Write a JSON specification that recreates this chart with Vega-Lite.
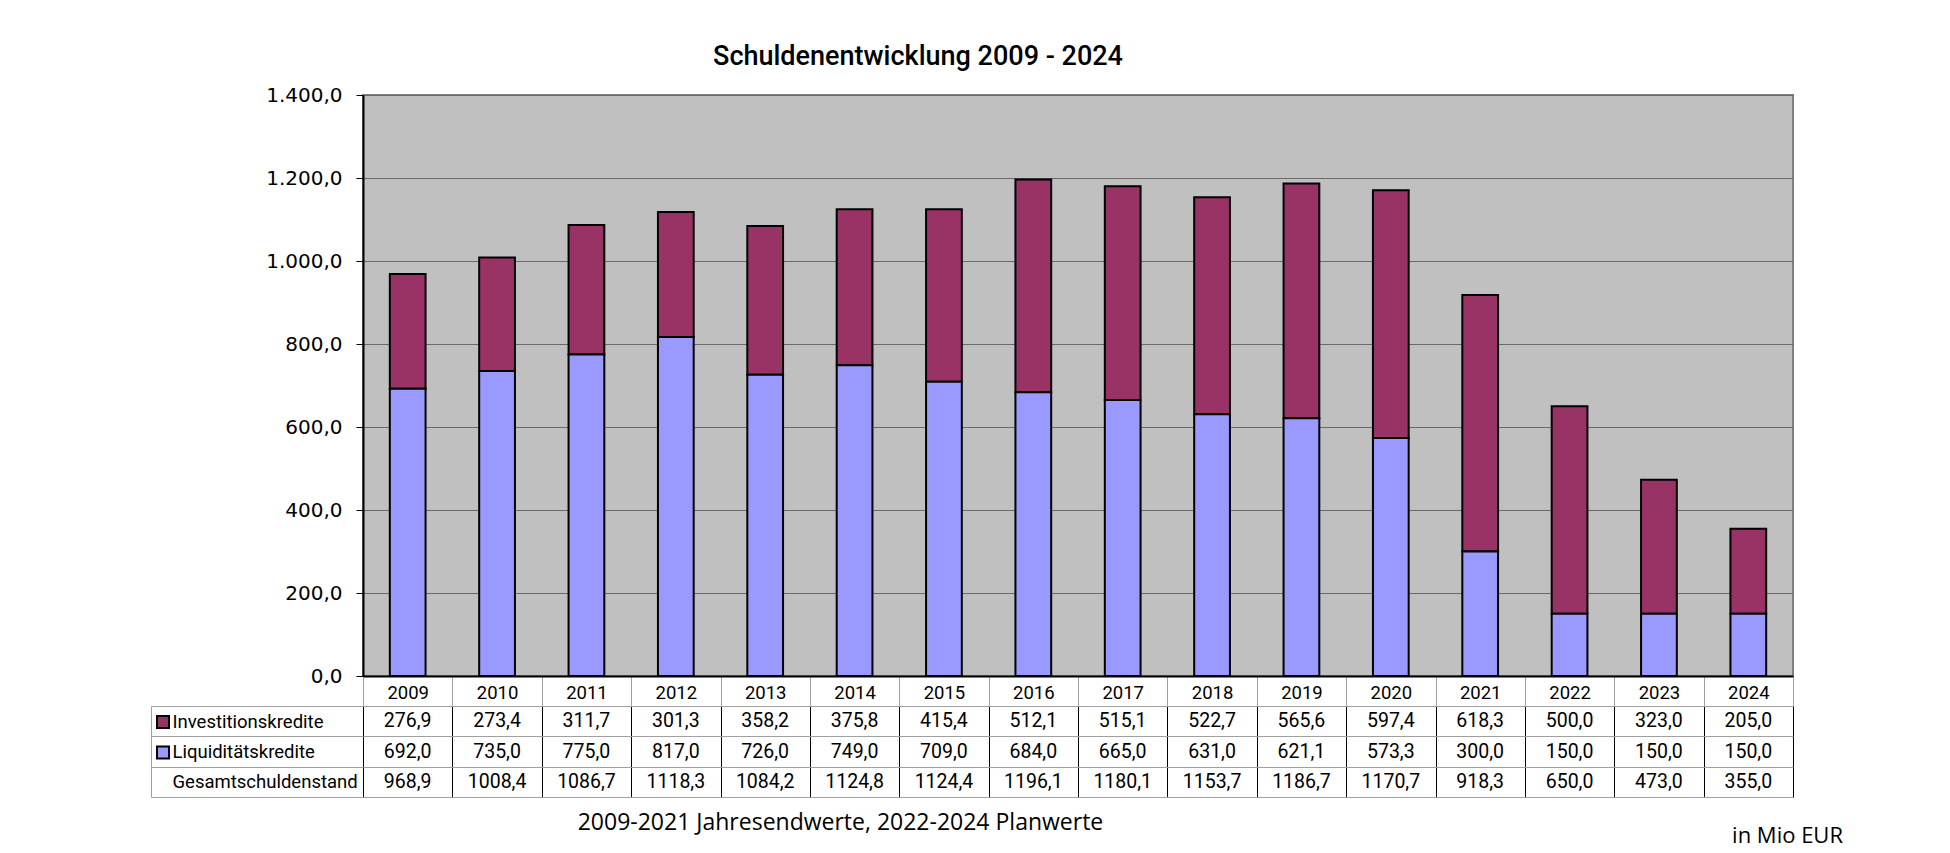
{
  "$schema": "https://vega.github.io/schema/vega-lite/v6.json",
  "background": "white",
  "padding": {"left": 150, "top": 42, "right": 5, "bottom": 5},
  "config": {
    "locale": {"number": {"decimal": ",", "thousands": ".", "grouping": [3], "currency": ["", " €"]}},
    "font": "Roboto"
  },
  "datasets": {
    "debt": [
      {"year": "2009", "row": "Investitionskredite", "value": 276.9},
      {"year": "2010", "row": "Investitionskredite", "value": 273.4},
      {"year": "2011", "row": "Investitionskredite", "value": 311.7},
      {"year": "2012", "row": "Investitionskredite", "value": 301.3},
      {"year": "2013", "row": "Investitionskredite", "value": 358.2},
      {"year": "2014", "row": "Investitionskredite", "value": 375.8},
      {"year": "2015", "row": "Investitionskredite", "value": 415.4},
      {"year": "2016", "row": "Investitionskredite", "value": 512.1},
      {"year": "2017", "row": "Investitionskredite", "value": 515.1},
      {"year": "2018", "row": "Investitionskredite", "value": 522.7},
      {"year": "2019", "row": "Investitionskredite", "value": 565.6},
      {"year": "2020", "row": "Investitionskredite", "value": 597.4},
      {"year": "2021", "row": "Investitionskredite", "value": 618.3},
      {"year": "2022", "row": "Investitionskredite", "value": 500.0},
      {"year": "2023", "row": "Investitionskredite", "value": 323.0},
      {"year": "2024", "row": "Investitionskredite", "value": 205.0},
      {"year": "2009", "row": "Liquiditätskredite", "value": 692.0},
      {"year": "2010", "row": "Liquiditätskredite", "value": 735.0},
      {"year": "2011", "row": "Liquiditätskredite", "value": 775.0},
      {"year": "2012", "row": "Liquiditätskredite", "value": 817.0},
      {"year": "2013", "row": "Liquiditätskredite", "value": 726.0},
      {"year": "2014", "row": "Liquiditätskredite", "value": 749.0},
      {"year": "2015", "row": "Liquiditätskredite", "value": 709.0},
      {"year": "2016", "row": "Liquiditätskredite", "value": 684.0},
      {"year": "2017", "row": "Liquiditätskredite", "value": 665.0},
      {"year": "2018", "row": "Liquiditätskredite", "value": 631.0},
      {"year": "2019", "row": "Liquiditätskredite", "value": 621.1},
      {"year": "2020", "row": "Liquiditätskredite", "value": 573.3},
      {"year": "2021", "row": "Liquiditätskredite", "value": 300.0},
      {"year": "2022", "row": "Liquiditätskredite", "value": 150.0},
      {"year": "2023", "row": "Liquiditätskredite", "value": 150.0},
      {"year": "2024", "row": "Liquiditätskredite", "value": 150.0},
      {"year": "2009", "row": "Gesamtschuldenstand", "value": 968.9},
      {"year": "2010", "row": "Gesamtschuldenstand", "value": 1008.4},
      {"year": "2011", "row": "Gesamtschuldenstand", "value": 1086.7},
      {"year": "2012", "row": "Gesamtschuldenstand", "value": 1118.3},
      {"year": "2013", "row": "Gesamtschuldenstand", "value": 1084.2},
      {"year": "2014", "row": "Gesamtschuldenstand", "value": 1124.8},
      {"year": "2015", "row": "Gesamtschuldenstand", "value": 1124.4},
      {"year": "2016", "row": "Gesamtschuldenstand", "value": 1196.1},
      {"year": "2017", "row": "Gesamtschuldenstand", "value": 1180.1},
      {"year": "2018", "row": "Gesamtschuldenstand", "value": 1153.7},
      {"year": "2019", "row": "Gesamtschuldenstand", "value": 1186.7},
      {"year": "2020", "row": "Gesamtschuldenstand", "value": 1170.7},
      {"year": "2021", "row": "Gesamtschuldenstand", "value": 918.3},
      {"year": "2022", "row": "Gesamtschuldenstand", "value": 650.0},
      {"year": "2023", "row": "Gesamtschuldenstand", "value": 473.0},
      {"year": "2024", "row": "Gesamtschuldenstand", "value": 355.0}
    ]
  },
  "bounds": "flush",
  "spacing": 30,
  "vconcat": [
    {
      "width": 1430,
      "height": 581,
      "title": {"text": "Schuldenentwicklung 2009 - 2024", "font": "Roboto", "fontSize": 27, "fontWeight": 500, "color": "black", "anchor": "middle", "dx": -160, "offset": -7, "baseline": "alphabetic"},
      "view": {"fill": "#c0c0c0", "stroke": "#808080", "strokeWidth": 2},
      "data": {"name": "debt"},
      "transform": [{"filter": "datum.row !== 'Gesamtschuldenstand'"}],
      "mark": {"type": "bar", "width": {"band": 0.4}, "stroke": "black", "strokeWidth": 2},
      "encoding": {
        "x": {
          "field": "year", "type": "ordinal",
          "scale": {"paddingInner": 0, "paddingOuter": 0},
          "axis": {"title": null, "labelAngle": 0, "labelFont": "Roboto", "labelFontSize": 18.5, "labelColor": "black", "labelPadding": -14, "labelBaseline": "middle", "ticks": true, "tickBand": "extent", "tickSize": 30, "tickColor": "#a0a0a0", "tickWidth": 1, "domain": true, "domainColor": "black", "domainWidth": 2, "grid": false}
        },
        "y": {
          "field": "value", "type": "quantitative", "stack": "zero",
          "scale": {"domain": [0, 1400], "nice": false},
          "axis": {"title": null, "values": [0, 200, 400, 600, 800, 1000, 1200, 1400], "format": ",.1f", "labelFont": "DejaVu Sans", "labelFontSize": 20, "labelColor": "black", "labelPadding": 14, "tickSize": 7, "tickColor": "black", "tickWidth": 1, "domain": true, "domainColor": "black", "domainWidth": 2, "grid": true, "gridColor": "#6a6a6a", "gridWidth": 1}
        },
        "color": {
          "field": "row", "type": "nominal",
          "scale": {"domain": ["Investitionskredite", "Liquiditätskredite"], "range": ["#993366", "#9999ff"]},
          "legend": {"orient": "none", "legendX": -207, "legendY": 620, "title": null, "symbolType": "square", "symbolSize": 144, "symbolStrokeColor": "black", "symbolStrokeWidth": 2, "symbolOpacity": 1, "labelExpr": "''", "labelFontSize": 14, "rowPadding": 10.4, "padding": 0}
        },
        "order": {"field": "row", "sort": "descending"}
      }
    },
    {
      "width": 1430,
      "height": 91,
      "data": {"name": "debt"},
      "title": {"text": "in Mio EUR", "orient": "bottom", "anchor": "end", "font": "Open Sans", "fontSize": 22, "fontWeight": "normal", "color": "black", "dx": 50, "offset": 9, "baseline": "alphabetic"},
      "mark": {"type": "text", "font": "Roboto", "fontSize": 19.5, "color": "black", "baseline": "middle"},
      "encoding": {
        "x": {
          "field": "year", "type": "ordinal",
          "scale": {"paddingInner": 0, "paddingOuter": 0},
          "axis": {"orient": "bottom", "labels": false, "ticks": false, "domain": false, "grid": true, "gridColor": "black", "gridWidth": 1, "tickBand": "extent", "title": "2009-2021 Jahresendwerte, 2022-2024 Planwerte", "titleFont": "Open Sans", "titleFontSize": 23, "titleFontWeight": "normal", "titleColor": "black", "titleX": 477, "titleY": 32, "titleAlign": "center", "titleBaseline": "alphabetic"}
        },
        "y": {
          "field": "row", "type": "nominal",
          "sort": ["Investitionskredite", "Liquiditätskredite", "Gesamtschuldenstand"],
          "scale": {"paddingInner": 0, "paddingOuter": 0},
          "axis": {"title": null, "offset": 212, "domain": true, "domainColor": "#a0a0a0", "domainWidth": 1, "ticks": true, "tickSize": -212, "tickBand": "extent", "tickColor": "#a0a0a0", "tickWidth": 1, "grid": true, "gridColor": "#a0a0a0", "gridWidth": 1, "labelAlign": "left", "labelPadding": 191, "labelLimit": 400, "labelFont": "Roboto", "labelFontSize": 18.5, "labelColor": "black", "labelBaseline": "middle"}
        },
        "text": {"field": "value", "type": "quantitative", "format": ".1f"}
      }
    }
  ]
}
